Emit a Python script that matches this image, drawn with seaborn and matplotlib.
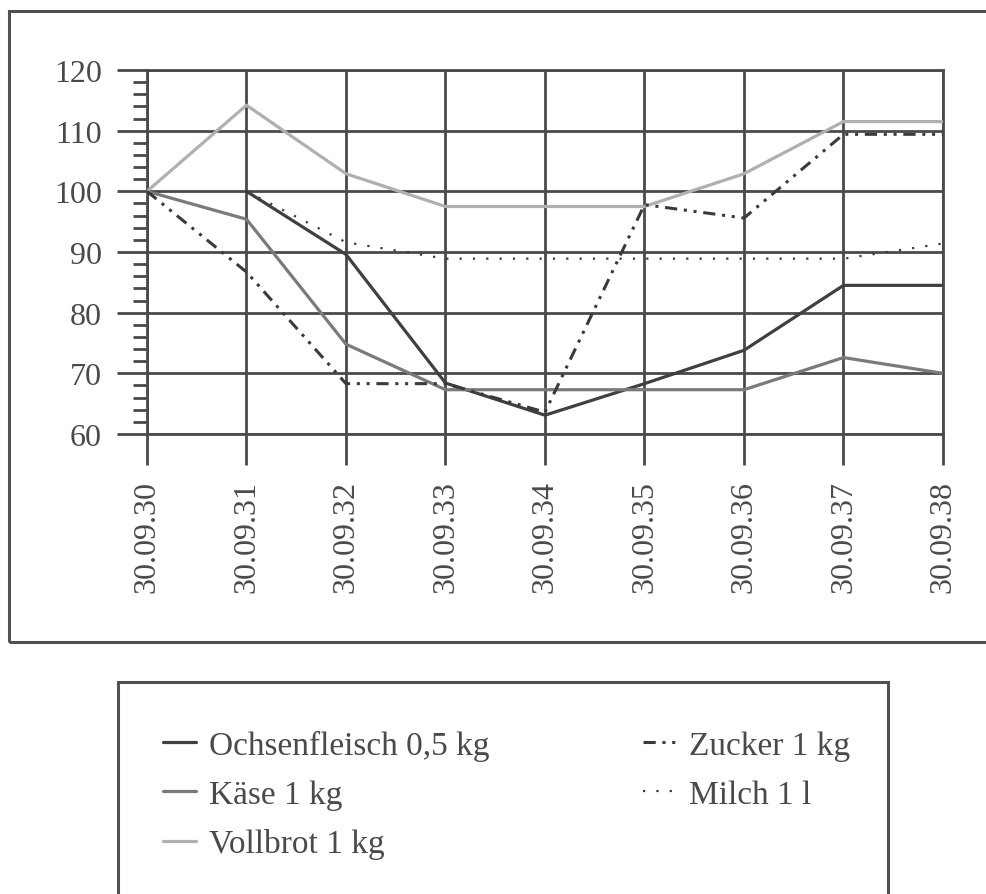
import numpy as np
import pandas as pd
import matplotlib
matplotlib.use("Agg")
import matplotlib.pyplot as plt
from matplotlib.patches import Rectangle
from matplotlib.ticker import MultipleLocator
import seaborn as sns


dates = ["30.09.30", "30.09.31", "30.09.32", "30.09.33", "30.09.34",
         "30.09.35", "30.09.36", "30.09.37", "30.09.38"]

ochsenfleisch = [np.nan, 100, 89.6, 68.4, 63.1, 68.3, 73.8, 84.5, 84.5]
kaese = [100, 95.4, 74.8, 67.3, 67.3, 67.3, 67.3, 72.6, 70.0]
vollbrot = [100, 114.2, 102.9, 97.5, 97.5, 97.5, 102.9, 111.5, 111.5]
zucker = [100, 86.7, 68.3, 68.3, 63.6, 97.8, 95.6, 109.4, 109.4]
milch = [np.nan, 100, 91.6, 88.9, 88.9, 88.9, 88.9, 88.9, 91.4]

names = ["Ochsenfleisch 0,5 kg", "Käse 1 kg", "Vollbrot 1 kg", "Zucker 1 kg", "Milch 1 l"]
series = [ochsenfleisch, kaese, vollbrot, zucker, milch]

rows = []
for name, vals in zip(names, series):
    for i, v in enumerate(vals):
        rows.append({"pos": i, "value": v, "series": name})
df = pd.DataFrame(rows).dropna()

styles = {
    "Ochsenfleisch 0,5 kg": dict(color="#404040", linewidth=2.3, linestyle="-"),
    "Käse 1 kg": dict(color="#7a7a7a", linewidth=2.3, linestyle="-"),
    "Vollbrot 1 kg": dict(color="#b0b0b0", linewidth=2.3, linestyle="-"),
    "Zucker 1 kg": dict(color="#3a3a3a", linewidth=2.2, linestyle=(0, (4, 2.2, 1, 2.2, 1, 2.2))),
    "Milch 1 l": dict(color="#3a3a3a", linewidth=1.6, linestyle=(0, (1, 5))),
}

sns.set_style("white")
plt.rcParams["font.family"] = ["Liberation Serif", "DejaVu Serif"]
txt = "#4a4a4a"
grid_c = "#4a4a4a"

W, H = 987, 895
fig = plt.figure(figsize=(W / 100, H / 100), dpi=100)
ax = fig.add_axes([147 / W, 1 - 435 / H, (943 - 147) / W, (435 - 71) / H])

for name in names:
    sub = df[df["series"] == name]
    sns.lineplot(data=sub, x="pos", y="value", ax=ax, errorbar=None,
                 label=name, zorder=3, **styles[name])

if ax.get_legend() is not None:
    ax.get_legend().remove()

ax.set_xlim(0, len(dates) - 1)
ax.set_ylim(60, 120)
ax.set_xticks(range(len(dates)))
ax.set_xticklabels(dates)
ax.set_yticks(range(60, 121, 10))
ax.yaxis.set_minor_locator(MultipleLocator(2))
ax.set_xlabel("")
ax.set_ylabel("")

ax.grid(True, which="major", color=grid_c, linewidth=2.0)
ax.set_axisbelow(True)
for s in ax.spines.values():
    s.set_visible(True)
    s.set_color(grid_c)
    s.set_linewidth(2.0)

ax.tick_params(axis="y", which="major", direction="out", length=21.6, width=2.0,
               color=grid_c, pad=11, labelsize=23, labelcolor=txt, left=True)
ax.tick_params(axis="y", which="minor", direction="out", length=10, width=2.0,
               color=grid_c, left=True)
ax.tick_params(axis="x", which="major", direction="out", length=22, width=2.0,
               color=grid_c, pad=11, labelsize=23, labelcolor=txt,
               labelrotation=90, bottom=True)

# outer frame of the chart area
fig.patches.append(Rectangle((9 / W, 1 - 643 / H), 1.2, (643 - 12) / H,
                             transform=fig.transFigure, fill=False,
                             edgecolor="#505050", linewidth=2.2))
# legend frame
fig.patches.append(Rectangle((118 / W, -0.1), (888 - 118) / W, (895 - 683) / H + 0.1,
                             transform=fig.transFigure, fill=False,
                             edgecolor="#505050", linewidth=2.2))

handles, labels = ax.get_legend_handles_labels()
leg = fig.legend(handles, labels, ncol=2, loc="upper left",
                 bbox_to_anchor=(163 / W, 1 - 731 / H), frameon=False,
                 fontsize=24, handlelength=1.0, handletextpad=0.38,
                 columnspacing=4.6, labelspacing=0.55, borderpad=0,
                 borderaxespad=0)
for t in leg.get_texts():
    t.set_color(txt)

fig.savefig("out.png", dpi=100)
